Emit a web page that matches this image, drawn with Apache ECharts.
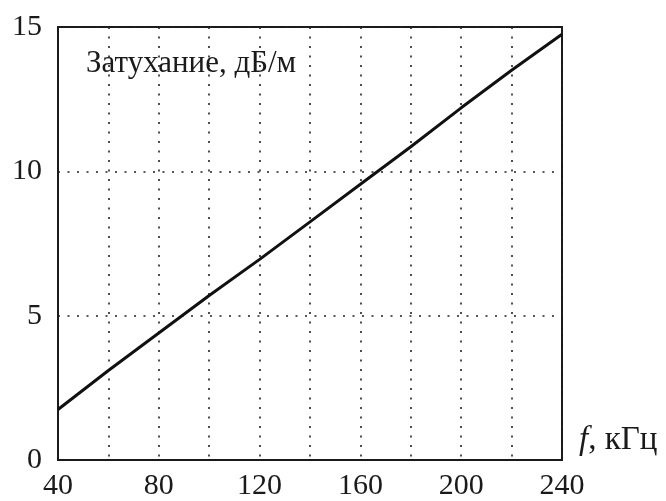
<!DOCTYPE html>
<html><head><meta charset="utf-8">
<script src="https://cdn.jsdelivr.net/npm/echarts@6/dist/echarts.min.js"></script>
<style>html,body{margin:0;padding:0;background:#fff}#c{width:666px;height:501px}</style>
</head><body><div id="c"></div>
<script>
const freq = [40, 60, 80, 100, 120, 140, 160, 180, 200, 220, 240];
const atten = [1.75, 3.1, 4.4, 5.7, 6.95, 8.25, 9.55, 10.85, 12.2, 13.5, 14.75];
const xTicks = [40, 80, 120, 160, 200, 240];
const yTicks = [0, 5, 10, 15];
const yTitle = 'Затухание, дБ/м';
const xTitle = '{i|f}, кГц';

const font = '"Liberation Serif", "Times New Roman", serif';
const chart = echarts.init(document.getElementById('c'));
chart.setOption({
  animation: false,
  backgroundColor: '#fff',
  title: {
    text: yTitle, left: 81, top: 43,
    textStyle: {fontFamily: font, fontSize: 31, fontWeight: 'normal', color: '#1a1a1a'}
  },
  grid: {left: 58, right: 104, top: 27, bottom: 37, show: true, borderColor: '#1a1a1a', borderWidth: 2},
  xAxis: {
    type: 'value', min: 40, max: 240, interval: 20,
    name: xTitle,
    nameLocation: 'end', nameGap: 17,
    nameTextStyle: {
      fontFamily: font, fontSize: 33, color: '#1a1a1a',
      verticalAlign: 'bottom', align: 'left', padding: [0, 0, 3, 0],
      rich: {i: {fontStyle: 'italic', fontFamily: font, fontSize: 33, color: '#1a1a1a'}}
    },
    axisLine: {show: true, lineStyle: {color: '#1a1a1a', width: 2}},
    axisTick: {show: false},
    axisLabel: {
      fontFamily: font, fontSize: 30, color: '#1a1a1a', margin: 11,
      formatter: v => xTicks.includes(v) ? String(v) : ''
    },
    splitLine: {show: true, lineStyle: {color: '#222', type: [2, 7.5], width: 1.6}}
  },
  yAxis: {
    type: 'value', min: 0, max: 15, interval: 5,
    axisLine: {show: true, lineStyle: {color: '#1a1a1a', width: 2}},
    axisTick: {show: false},
    axisLabel: {
      fontFamily: font, fontSize: 30, color: '#1a1a1a', margin: 16,
      formatter: v => yTicks.includes(v) ? String(v) : ''
    },
    splitLine: {show: true, lineStyle: {color: '#222', type: [2, 7.5], width: 1.6}}
  },
  series: [{
    type: 'line',
    data: freq.map((f, i) => [f, atten[i]]),
    showSymbol: false,
    lineStyle: {color: '#111', width: 3},
    smooth: false
  }]
});
</script></body></html>
